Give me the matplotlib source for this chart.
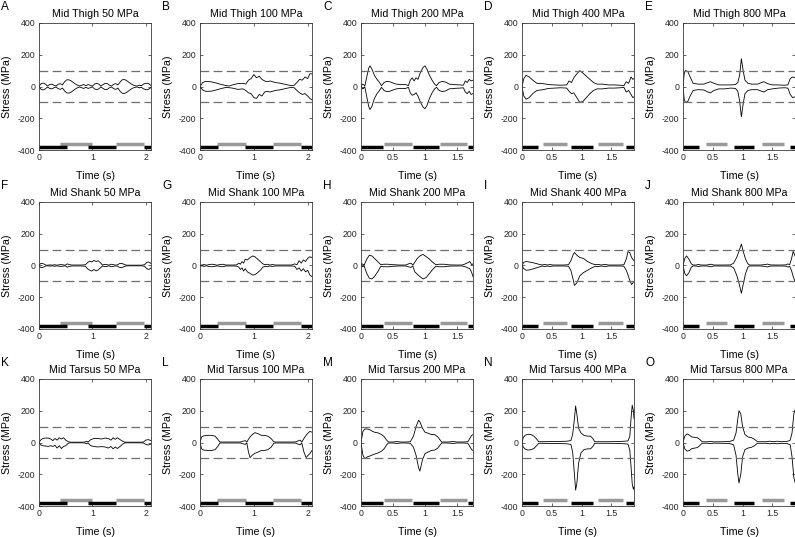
import matplotlib
matplotlib.use("Agg")
import matplotlib.pyplot as plt

plt.rcParams['font.family'] = ['Liberation Sans', 'DejaVu Sans']
plt.rcParams['axes.unicode_minus'] = False

# ---- stress envelopes (time in s, max / min stress in MPa) ----
A_t = [0.00, 0.04, 0.08, 0.12, 0.16, 0.20, 0.24, 0.28, 0.32, 0.36, 0.40, 0.44, 0.48, 0.52, 0.56, 0.60, 0.64, 0.68,
       0.72, 0.76, 0.80, 0.84, 0.88, 0.92, 0.96, 1.00, 1.04, 1.08, 1.12, 1.16, 1.20, 1.24, 1.28, 1.32, 1.36, 1.40,
       1.44, 1.48, 1.52, 1.56, 1.60, 1.64, 1.68, 1.72, 1.76, 1.80, 1.84, 1.88, 1.92, 1.96, 2.00, 2.04, 2.08, 2.10]
A_hi = [2, 18, 22, 15, 3, 12, 15, 8, 3, 14, 18, 10, 30, 42, 42, 36, 26, 16, 8, 3, 8, 12, 5, 12, 8, 2, 15, 20, 15, 3,
        12, 20, 18, 8, 3, 14, 18, 10, 28, 42, 44, 38, 28, 18, 10, 5, 3, 8, 5, 15, 20, 20, 12, 5]
A_lo = [-2, -18, -22, -15, -3, -12, -15, -8, -3, -14, -18, -10, -28, -40, -42, -36, -26, -16, -8, -3, -8, -12, -5,
        -12, -8, -2, -15, -20, -15, -3, -12, -20, -18, -8, -3, -14, -18, -10, -30, -42, -44, -38, -28, -18, -10, -5,
        -3, -8, -5, -15, -20, -20, -12, -5]

B_t = [0.00, 0.05, 0.10, 0.20, 0.30, 0.40, 0.50, 0.55, 0.60, 0.70, 0.80, 0.85, 0.90, 0.95, 1.00, 1.05, 1.10, 1.15,
       1.20, 1.25, 1.30, 1.40, 1.50, 1.60, 1.70, 1.75, 1.80, 1.85, 1.90, 1.95, 2.00, 2.04, 2.08]
B_hi = [0, 25, 32, 30, 22, 12, 5, 3, 10, 18, 20, 15, 40, 50, 75, 55, 65, 45, 35, 30, 35, 25, 20, 12, 5, 8, 25, 45, 40,
        60, 50, 80, 80]
B_lo = [0, -22, -30, -30, -22, -12, -5, -8, -10, -18, -15, -25, -40, -45, -70, -75, -50, -60, -35, -30, -35, -25, -20,
        -12, -5, -8, -25, -40, -50, -45, -60, -75, -85]

C_t = [0.00, 0.02, 0.04, 0.06, 0.09, 0.12, 0.14, 0.17, 0.21, 0.25, 0.29, 0.32, 0.36, 0.40, 0.45, 0.50, 0.55, 0.62,
       0.70, 0.74, 0.77, 0.80, 0.83, 0.86, 0.89, 0.93, 0.97, 1.00, 1.03, 1.07, 1.11, 1.15, 1.18, 1.22, 1.27, 1.32,
       1.38, 1.45, 1.55, 1.60, 1.63, 1.66, 1.69, 1.72, 1.75]
C_hi = [0, 15, 12, 3, 60, 115, 130, 110, 70, 45, 25, 5, 25, 32, 30, 22, 15, 12, 12, 5, 40, 55, 35, 55, 45, 90, 120,
        130, 110, 70, 40, 15, 5, 25, 32, 28, 15, 12, 10, 8, 35, 25, 45, 35, 40]
C_lo = [0, -15, -12, -3, -65, -125, -145, -125, -75, -45, -25, -5, -25, -32, -30, -22, -15, -12, -12, -5, -40, -55,
        -50, -40, -60, -100, -130, -140, -120, -75, -40, -15, -5, -25, -32, -28, -15, -12, -10, -8, -35, -45, -30,
        -50, -45]

D_t = [0.00, 0.03, 0.07, 0.12, 0.18, 0.25, 0.35, 0.45, 0.55, 0.65, 0.75, 0.79, 0.83, 0.87, 0.92, 0.97, 1.02, 1.08,
       1.14, 1.20, 1.26, 1.35, 1.45, 1.55, 1.65, 1.71, 1.75, 1.79, 1.83, 1.86, 1.88]
D_hi = [0, 50, 70, 60, 40, 20, 18, 12, 10, 8, 10, 35, 25, 55, 80, 100, 85, 65, 45, 25, 15, 15, 10, 10, 8, 5, 30, 20,
        60, 45, 50]
D_lo = [0, -60, -80, -70, -45, -25, -20, -12, -10, -8, -10, -30, -45, -40, -70, -100, -95, -70, -45, -25, -15, -15,
        -10, -10, -8, -5, -35, -25, -50, -70, -65]

E_t = [0.00, 0.02, 0.04, 0.08, 0.12, 0.17, 0.25, 0.35, 0.42, 0.46, 0.52, 0.60, 0.70, 0.80, 0.88, 0.92, 0.95, 0.98,
       1.01, 1.04, 1.09, 1.15, 1.25, 1.32, 1.36, 1.42, 1.50, 1.60, 1.70, 1.76, 1.80, 1.84, 1.88]
E_hi = [0, 80, 100, 95, 60, 20, 15, 15, 25, 30, 20, 10, 10, 10, 12, 25, 70, 175, 100, 40, 20, 15, 15, 25, 30, 18, 10,
        10, 8, 10, 50, 60, 55]
E_lo = [0, -80, -100, -95, -60, -25, -20, -22, -35, -40, -25, -15, -15, -10, -12, -30, -90, -190, -110, -45, -25,
        -20, -20, -30, -35, -20, -15, -10, -8, -10, -50, -70, -65]

F_t = [0.00, 0.03, 0.06, 0.10, 0.13, 0.17, 0.21, 0.25, 0.29, 0.33, 0.37, 0.41, 0.45, 0.49, 0.53, 0.57, 0.61, 0.66,
       0.72, 0.80, 0.87, 0.91, 0.95, 0.99, 1.03, 1.07, 1.11, 1.15, 1.19, 1.23, 1.27, 1.31, 1.35, 1.39, 1.43, 1.47,
       1.51, 1.55, 1.59, 1.64, 1.72, 1.82, 1.92, 1.98, 2.02, 2.06, 2.10]
F_hi = [2, 12, 13, 8, 2, 2, 4, 2, 5, 2, 4, 6, 4, 2, 10, 6, 3, 3, 3, 3, 5, 18, 28, 22, 32, 25, 30, 18, 3, 7, 6, 2, 8,
        6, 2, 4, 12, 14, 8, 2, 2, 2, 2, 5, 20, 22, 12]
F_lo = [-2, -12, -13, -8, -2, -2, -4, -2, -5, -2, -4, -6, -4, -2, -10, -6, -3, -3, -3, -3, -5, -20, -30, -35, -25,
        -34, -28, -15, -3, -7, -6, -2, -8, -6, -2, -4, -12, -14, -8, -2, -2, -2, -2, -5, -20, -25, -15]

G_t = [0.00, 0.04, 0.08, 0.12, 0.17, 0.22, 0.27, 0.31, 0.36, 0.42, 0.48, 0.55, 0.62, 0.68, 0.72, 0.75, 0.78, 0.81,
       0.84, 0.88, 0.93, 0.98, 1.02, 1.07, 1.12, 1.17, 1.21, 1.25, 1.29, 1.35, 1.40, 1.50, 1.60, 1.70, 1.76, 1.80,
       1.84, 1.88, 1.92, 1.96, 2.00, 2.04, 2.08]
G_hi = [2, 3, 6, 2, 6, 8, 6, 2, 5, 8, 3, 3, 3, 4, 15, 8, 25, 15, 40, 35, 50, 60, 55, 40, 25, 10, 5, 8, 3, 6, 3, 3, 3,
        3, 10, 5, 30, 15, 35, 25, 45, 55, 50]
G_lo = [-2, -3, -5, -2, -6, -8, -6, -2, -5, -8, -3, -3, -3, -4, -10, -25, -15, -35, -20, -40, -50, -60, -58, -45,
        -30, -10, -5, -8, -3, -6, -3, -3, -3, -3, -5, -25, -15, -35, -20, -40, -30, -60, -70]

H_t = [0.00, 0.02, 0.05, 0.09, 0.13, 0.17, 0.21, 0.26, 0.31, 0.35, 0.42, 0.50, 0.60, 0.70, 0.74, 0.78, 0.81, 0.84,
       0.88, 0.92, 0.97, 1.02, 1.07, 1.12, 1.17, 1.22, 1.30, 1.38, 1.48, 1.58, 1.63, 1.67, 1.70, 1.73, 1.75]
H_hi = [0, 10, 3, 40, 65, 60, 45, 25, 5, 8, 8, 5, 3, 3, 10, 15, 3, 20, 45, 60, 70, 55, 40, 20, 5, 8, 8, 4, 3, 3, 10,
        18, 25, 5, 10]
H_lo = [0, -8, -3, -50, -80, -85, -70, -40, -5, -8, -8, -5, -3, -3, -8, -12, -3, -40, -55, -70, -85, -75, -50, -25,
        -5, -8, -8, -4, -3, -3, -8, -15, -20, -45, -70]

I_t = [0.00, 0.03, 0.07, 0.12, 0.18, 0.24, 0.30, 0.34, 0.38, 0.42, 0.47, 0.52, 0.60, 0.70, 0.78, 0.82, 0.86, 0.88,
       0.92, 0.97, 1.03, 1.10, 1.17, 1.23, 1.28, 1.33, 1.39, 1.45, 1.55, 1.65, 1.71, 1.75, 1.78, 1.81, 1.84, 1.88]
I_hi = [0, 20, 25, 22, 18, 12, 6, 3, 7, 3, 6, 3, 3, 3, 5, 30, 70, 82, 65, 50, 45, 25, 12, 5, 7, 3, 7, 3, 3, 3, 5, 40,
        88, 80, 50, 30]
I_lo = [0, -20, -30, -28, -22, -15, -8, -3, -7, -3, -6, -3, -3, -3, -5, -30, -90, -125, -110, -65, -45, -30, -15, -5,
        -7, -3, -7, -3, -3, -3, -5, -30, -60, -95, -120, -100]

J_t = [0.00, 0.03, 0.06, 0.10, 0.14, 0.17, 0.22, 0.26, 0.30, 0.40, 0.47, 0.52, 0.62, 0.72, 0.80, 0.85, 0.90, 0.94,
       0.98, 1.01, 1.05, 1.09, 1.12, 1.20, 1.30, 1.38, 1.42, 1.46, 1.55, 1.65, 1.73, 1.76, 1.79, 1.82, 1.85, 1.88]
J_hi = [0, 45, 60, 40, 10, 3, 3, 7, 3, 3, 8, 3, 3, 3, 4, 15, 50, 90, 135, 90, 40, 10, 3, 3, 3, 6, 9, 4, 3, 3, 4, 10,
        5, 40, 90, 60]
J_lo = [0, -50, -65, -45, -10, -3, -3, -7, -3, -3, -8, -3, -3, -3, -4, -15, -60, -110, -175, -120, -50, -10, -3, -3,
        -3, -6, -9, -4, -3, -3, -4, -10, -5, -30, -70, -100]

K_t = [0.00, 0.03, 0.07, 0.12, 0.17, 0.22, 0.26, 0.30, 0.34, 0.38, 0.42, 0.46, 0.50, 0.55, 0.58, 0.65, 0.75, 0.85,
       0.89, 0.92, 0.97, 1.03, 1.10, 1.17, 1.24, 1.30, 1.35, 1.39, 1.43, 1.47, 1.52, 1.57, 1.61, 1.70, 1.80, 1.90,
       1.96, 2.00, 2.05, 2.10]
K_hi = [0, 15, 25, 28, 28, 22, 12, 25, 15, 30, 22, 30, 15, 5, 2, 2, 2, 2, 8, 3, 18, 25, 25, 22, 28, 25, 15, 30, 20,
        30, 18, 8, 2, 2, 2, 2, 3, 15, 18, 12]
K_lo = [0, -15, -20, -22, -25, -20, -25, -18, -35, -20, -38, -25, -20, -5, -2, -2, -2, -2, -8, -3, -20, -25, -28,
        -26, -28, -35, -25, -40, -28, -38, -25, -10, -2, -2, -2, -2, -3, -12, -16, -10]

L_t = [0.00, 0.03, 0.07, 0.15, 0.22, 0.28, 0.33, 0.37, 0.45, 0.55, 0.65, 0.75, 0.80, 0.84, 0.87, 0.90, 0.93, 0.97,
       1.02, 1.08, 1.14, 1.20, 1.26, 1.32, 1.37, 1.40, 1.50, 1.60, 1.70, 1.78, 1.82, 1.86, 1.89, 1.93, 1.97, 2.01,
       2.04, 2.08]
L_hi = [0, 35, 42, 45, 45, 40, 20, 3, 3, 3, 3, 3, 8, 12, 3, 20, 35, 50, 62, 55, 45, 45, 40, 25, 5, 3, 3, 3, 3, 4, 10,
        15, 3, 25, 45, 60, 70, 65]
L_lo = [0, -40, -48, -50, -50, -45, -25, -3, -3, -3, -3, -3, -8, -12, -3, -60, -95, -80, -68, -60, -50, -50, -45, -30,
        -5, -3, -3, -3, -3, -4, -10, -15, -3, -60, -95, -80, -70, -50]

M_t = [0.00, 0.03, 0.06, 0.10, 0.14, 0.18, 0.22, 0.27, 0.32, 0.36, 0.40, 0.43, 0.50, 0.56, 0.62, 0.70, 0.77, 0.82,
       0.86, 0.90, 0.92, 0.96, 1.00, 1.05, 1.10, 1.15, 1.20, 1.26, 1.35, 1.44, 1.50, 1.60, 1.67, 1.70, 1.73, 1.75]
M_hi = [0, 70, 85, 85, 80, 70, 64, 60, 50, 38, 15, 3, 3, 6, 3, 3, 5, 40, 100, 140, 130, 90, 65, 58, 50, 50, 35, 3, 3,
        6, 3, 3, 5, 25, 45, 50]
M_lo = [0, -80, -102, -90, -85, -78, -72, -65, -55, -40, -15, -3, -3, -6, -3, -3, -5, -30, -80, -160, -180, -110,
        -70, -60, -50, -48, -35, -3, -3, -6, -3, -3, -5, -25, -45, -50]

N_t = [0.00, 0.02, 0.05, 0.10, 0.15, 0.20, 0.25, 0.28, 0.35, 0.50, 0.65, 0.75, 0.82, 0.85, 0.88, 0.90, 0.92, 0.95,
       0.99, 1.04, 1.10, 1.15, 1.19, 1.22, 1.30, 1.45, 1.60, 1.72, 1.78, 1.81, 1.83, 1.85, 1.87, 1.88]
N_hi = [0, 30, 45, 52, 50, 40, 20, 5, 5, 6, 7, 8, 12, 50, 150, 230, 180, 90, 60, 45, 40, 40, 25, 5, 5, 5, 6, 8, 10,
        40, 150, 235, 200, 150]
N_lo = [0, -28, -40, -48, -45, -38, -18, -5, -5, -6, -7, -8, -12, -60, -200, -300, -260, -130, -65, -45, -40, -40,
        -25, -5, -5, -5, -6, -8, -10, -50, -150, -260, -295, -280]

O_t = [0.00, 0.03, 0.07, 0.11, 0.15, 0.20, 0.24, 0.28, 0.32, 0.40, 0.46, 0.52, 0.65, 0.78, 0.85, 0.89, 0.92, 0.94,
       0.97, 1.00, 1.04, 1.09, 1.15, 1.20, 1.25, 1.40, 1.45, 1.52, 1.58, 1.65, 1.75, 1.80, 1.83, 1.86, 1.88]
O_hi = [0, 40, 55, 45, 35, 32, 30, 20, 5, 4, 7, 4, 5, 6, 15, 60, 150, 200, 180, 100, 50, 35, 30, 20, 5, 5, 8, 5, 8,
        5, 7, 15, 60, 180, 205]
O_lo = [0, -40, -55, -50, -38, -35, -32, -20, -5, -4, -7, -4, -5, -6, -15, -80, -200, -255, -200, -90, -45, -35, -30,
        -20, -5, -5, -8, -5, -8, -5, -7, -15, -90, -220, -250]

# ---- stance bars per speed column: black (one limb) and grey (other limb) ----
COL_XMAX = [2.1, 2.08, 1.75, 1.88, 1.88]
BLACK_START = [[0.00, 0.91, 1.96], [0.00, 0.83, 1.87], [0.00, 0.81, 1.67], [0.00, 0.82, 1.75], [0.00, 0.85, 1.80]]
BLACK_END = [[0.52, 1.44, 2.10], [0.33, 1.36, 2.08], [0.34, 1.22, 1.75], [0.27, 1.20, 1.88], [0.27, 1.20, 1.88]]
GREY_START = [[0.40, 1.44], [0.31, 1.35], [0.36, 1.23], [0.36, 1.28], [0.38, 1.33]]
GREY_END = [[1.00, 1.96], [0.85, 1.87], [0.79, 1.66], [0.75, 1.69], [0.74, 1.70]]

ROWS = ["Mid Thigh", "Mid Shank", "Mid Tarsus"]
COLS = ["50 MPa", "100 MPa", "200 MPa", "400 MPa", "800 MPa"]
LETTERS = ["A", "B", "C", "D", "E", "F", "G", "H", "I", "J", "K", "L", "M", "N", "O"]
SERIES = [(A_t, A_hi, A_lo), (B_t, B_hi, B_lo), (C_t, C_hi, C_lo), (D_t, D_hi, D_lo), (E_t, E_hi, E_lo),
          (F_t, F_hi, F_lo), (G_t, G_hi, G_lo), (H_t, H_hi, H_lo), (I_t, I_hi, I_lo), (J_t, J_hi, J_lo),
          (K_t, K_hi, K_lo), (L_t, L_hi, L_lo), (M_t, M_hi, M_lo), (N_t, N_hi, N_lo), (O_t, O_hi, O_lo)]

W, H = 795, 537
fig = plt.figure(figsize=(W / 100, H / 100), dpi=100)

lefts = [39, 200, 361, 522, 683]
tops = [23, 202, 379]
aw, ah = 112, 127

for r in range(3):
    for c in range(5):
        k = r * 5 + c
        ax = fig.add_axes([lefts[c] / W, 1 - (tops[r] + ah) / H, aw / W, ah / H])
        t, hi, lo = SERIES[k]
        ax.plot(t, hi, color='k', lw=0.6)
        ax.plot(t, lo, color='k', lw=0.6)
        for y in (100, -100):
            ax.axhline(y, color='#6e6e6e', lw=0.9, dashes=(7, 3.5))
        ax.hlines([-362] * len(GREY_START[c]), GREY_START[c], GREY_END[c], colors='#999999', lw=2.5)
        ax.hlines([-384] * len(BLACK_START[c]), BLACK_START[c], BLACK_END[c], colors='k', lw=2.5)

        ax.set_xlim(0, COL_XMAX[c])
        ax.set_ylim(-400, 400)
        ax.set_yticks([-400, -200, 0, 200, 400])
        if c < 2:
            ax.set_xticks([0, 1, 2])
        else:
            ax.set_xticks([0, 0.5, 1, 1.5])
            ax.set_xticklabels(['0', '0.5', '1', '1.5'])
        ax.tick_params(direction='in', length=2.5, width=0.5, top=True, right=True,
                       labelsize=6.3, pad=2.5, colors='#262626')
        for s in ax.spines.values():
            s.set_linewidth(0.6)
            s.set_color('#3a3a3a')

        ax.set_title(ROWS[r] + " " + COLS[c], fontsize=7.7, pad=4)
        ax.set_ylabel("Stress (MPa)", fontsize=7.7)
        ax.yaxis.set_label_coords(-27 / aw, 0.5)
        ax.set_xlabel("Time (s)", fontsize=7.7)
        ax.xaxis.set_label_coords(0.5, -21 / ah)

        fig.text((lefts[c] - 38) / W, 1 - (tops[r] - 13) / H, LETTERS[k],
                 fontsize=8.5, ha='left', va='baseline')

fig.savefig("out.png", dpi=100)
